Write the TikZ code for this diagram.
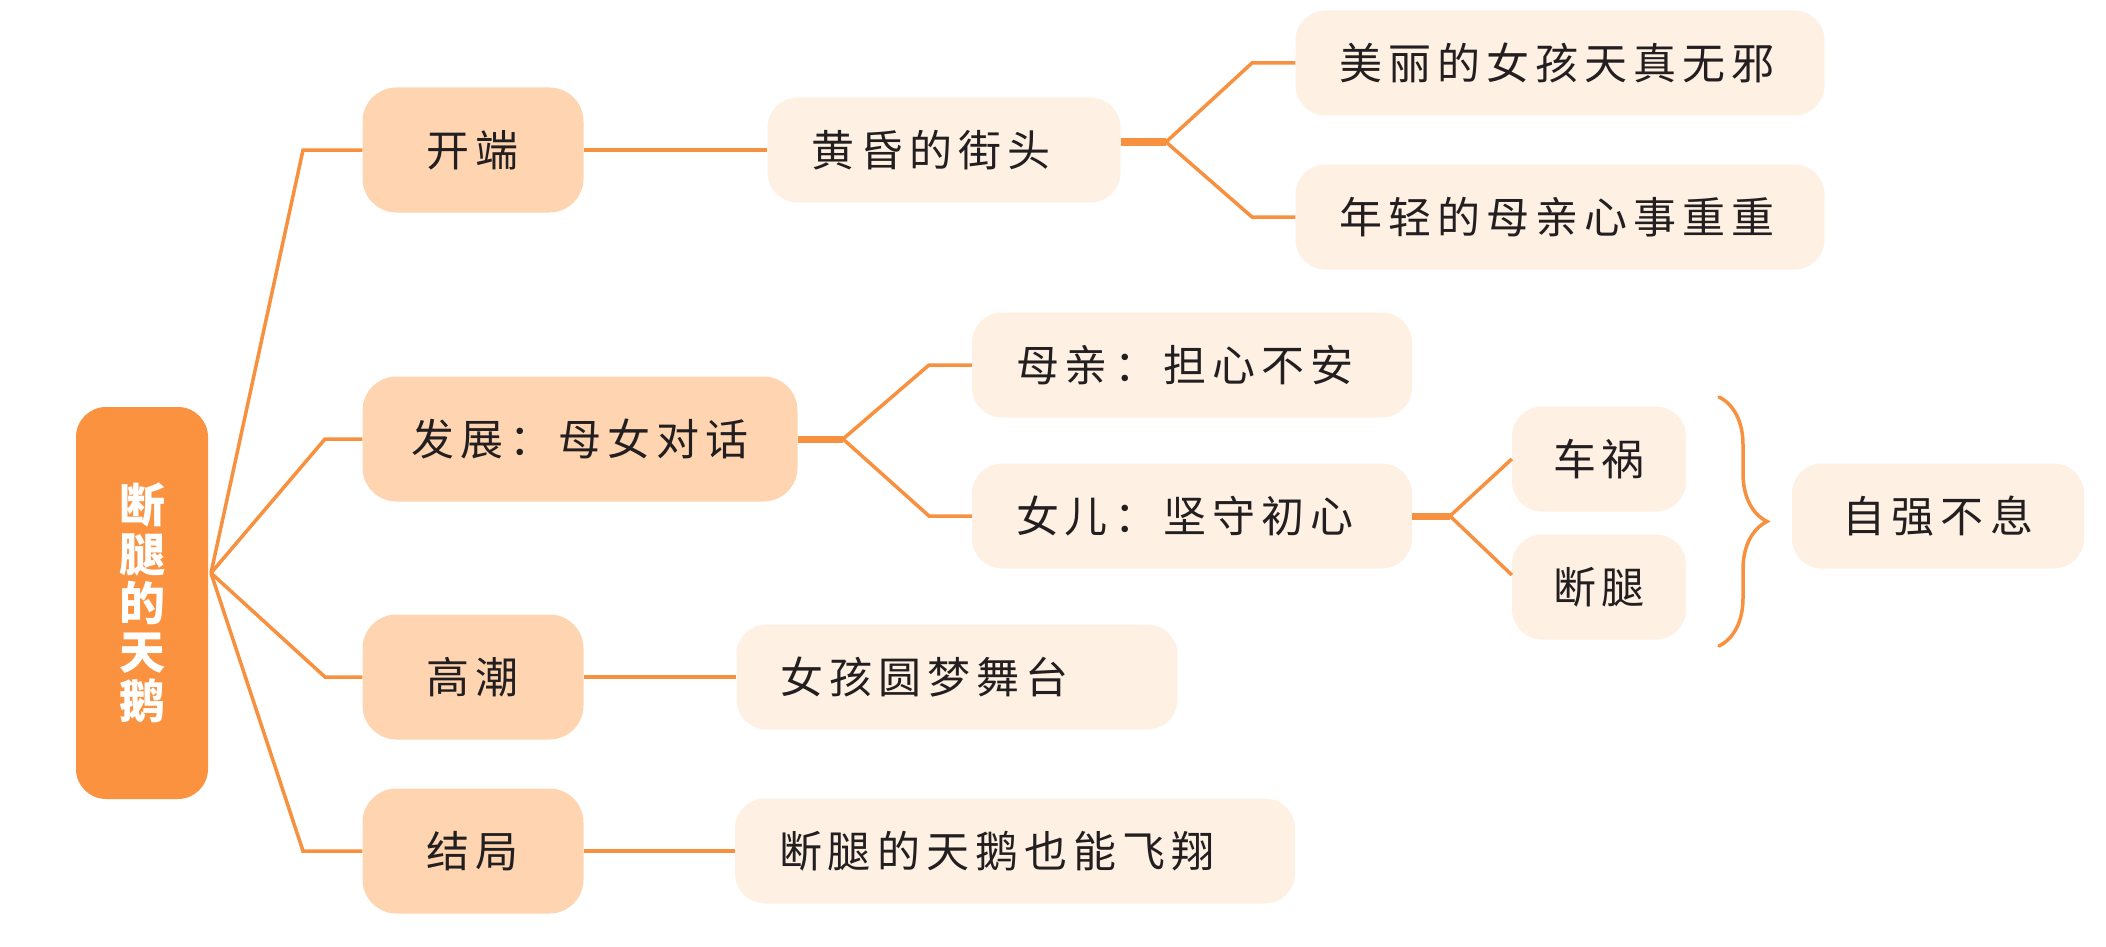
\documentclass[tikz,border=0pt]{standalone}
\usepackage{fontspec}
\usetikzlibrary{decorations.pathreplacing}
\newfontfamily\cjk{Noto Sans CJK SC}[LetterSpace=14]
\newfontfamily\cjkroot{Noto Sans CJK SC}
\definecolor{rootorange}{HTML}{FB9240}
\definecolor{lineorange}{HTML}{F8913F}
\definecolor{peach}{HTML}{FED5B0}
\definecolor{cream}{HTML}{FEF0E3}
\definecolor{ink}{HTML}{231F20}
\begin{document}
\begin{tikzpicture}[x=1pt,y=-1pt,
  root/.style={fill=rootorange, rounded corners=30pt, minimum width=132pt, minimum height=392pt,
    text=white, align=center, font=\cjkroot\bfseries\fontsize{46}{49}\selectfont},
  stage/.style={fill=peach, rounded corners=34pt, minimum height=125pt, inner xsep=0pt,
    text=ink, font=\cjk\fontsize{43}{48}\selectfont},
  leaf/.style={fill=cream, rounded corners=30pt, minimum height=105pt, inner xsep=44pt,
    align=left, text=ink, font=\cjk\fontsize{43}{48}\selectfont},
  link/.style={draw=lineorange, line width=3.5pt},
  stub/.style={draw=lineorange, line width=7pt}]
  \useasboundingbox[fill=white] (0,0) rectangle (2106,947);
  % root and stages
  \node[root] (root) at (142,603) {断\\腿\\的\\天\\鹅};
  \node[stage, minimum width=221pt] (kaiduan) at (473,150) {开端};
  \node[stage, minimum width=435pt] (fazhan) at (580,439) {发展：母女对话};
  \node[stage, minimum width=221pt] (gaochao) at (473,677) {高潮};
  \node[stage, minimum width=221pt] (jieju) at (473,851) {结局};
  % leaves
  \node[leaf, text width=265pt] (huanghun) at (944,150) {黄昏的街头};
  \node[leaf, text width=441pt] (meili) at (1560,63) {美丽的女孩天真无邪};
  \node[leaf, text width=441pt] (nianqing) at (1560,217) {年轻的母亲心事重重};
  \node[leaf, text width=352pt] (muqin) at (1192,365) {母亲：担心不安};
  \node[leaf, text width=352pt] (nver) at (1192,516) {女儿：坚守初心};
  \node[leaf, inner xsep=38pt, text width=98pt, align=center] (chehuo) at (1599,459) {车祸};
  \node[leaf, inner xsep=38pt, text width=98pt, align=center] (duantui) at (1599,587) {断腿};
  \node[leaf, text width=204pt, align=center] (ziqiang) at (1938,516) {自强不息};
  \node[leaf, text width=353pt] (yuanmeng) at (957,677) {女孩圆梦舞台};
  \node[leaf, text width=472pt] (feixiang) at (1015,851) {断腿的天鹅也能飞翔};
  % fork points
  \coordinate (hub) at (211,573);
  \coordinate (hh fork) at (1166,142);
  \coordinate (fz fork) at (843,439);
  \coordinate (nv fork) at (1450,516);
  % connectors
  \draw[link] (hub) -- (303,150) -- (kaiduan);
  \draw[link] (hub) -- (325,439) -- (fazhan);
  \draw[link] (hub) -- (325,677) -- (gaochao);
  \draw[link] (hub) -- (303,851) -- (jieju);
  \draw[link] (kaiduan) -- (huanghun);
  \draw[link] (gaochao) -- (yuanmeng);
  \draw[link] (jieju) -- (feixiang);
  \draw[stub] ([yshift=8pt]huanghun.east) -- (hh fork);
  \draw[link] (hh fork) -- (1252,63) -- (meili);
  \draw[link] (hh fork) -- (1252,217) -- (nianqing);
  \draw[stub] (fazhan) -- (fz fork);
  \draw[link] (fz fork) -- (929,365) -- (muqin);
  \draw[link] (fz fork) -- (929,516) -- (nver);
  \draw[stub] (nver) -- (nv fork);
  \draw[link] (nv fork) -- (chehuo.west);
  \draw[link] (nv fork) -- ([yshift=12pt]duantui.west);
  \draw[link, line cap=round, decorate, decoration={brace, amplitude=48pt}] (1719,397) -- (1719,646);
\end{tikzpicture}
\end{document}
